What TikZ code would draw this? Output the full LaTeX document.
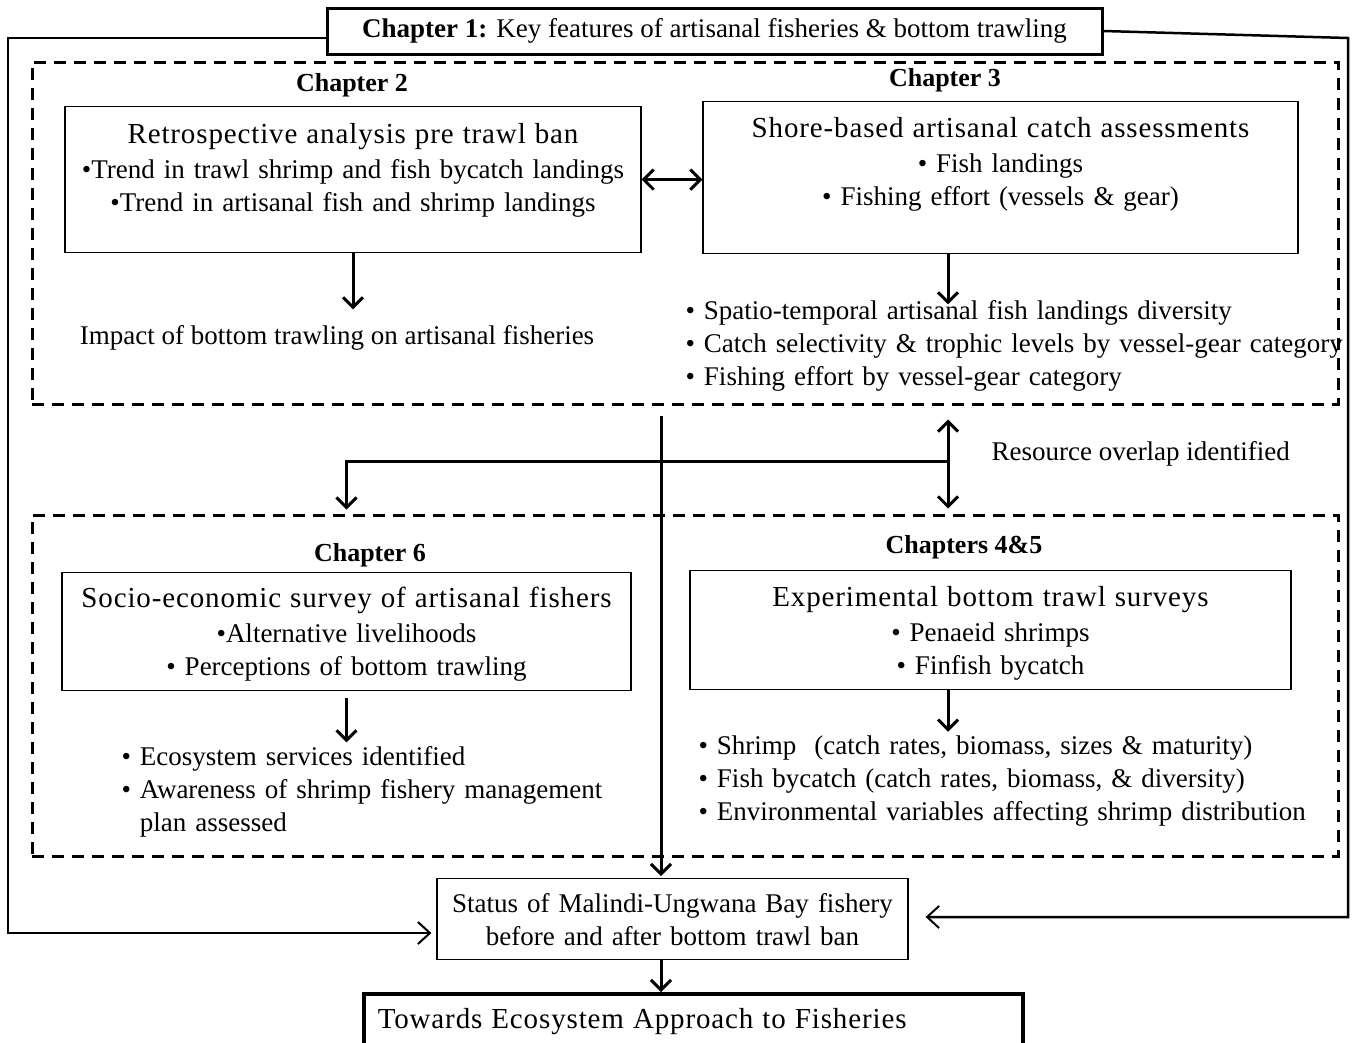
\documentclass[tikz,border=0pt]{standalone}
\usepackage{fontspec}
\setmainfont{Liberation Serif}
\newfontfamily\titlefont{Liberation Serif}[LetterSpace=3]
\usetikzlibrary{arrows.meta,positioning}

\tikzset{
  every node/.style={font=\fontsize{27}{33}\selectfont},
  chapbox/.style={draw, line width=1.2pt, inner xsep=0pt, inner ysep=0pt, align=center, anchor=north},
  heavybox/.style={draw, line width=3pt, inner sep=0pt},
  partbox/.style={draw, dash pattern=on 12pt off 8pt, line width=3pt, inner sep=0pt},
  chaplabel/.style={anchor=base, font=\fontsize{26}{32}\selectfont\bfseries},
  bulletlist/.style={anchor=base west, align=left},
  arr/.style={line width=3pt, -{Straight Barb[length=10pt,width=20pt]}},
  dblarr/.style={line width=3pt, {Straight Barb[length=10pt,width=20pt]}-{Straight Barb[length=10pt,width=20pt]}},
  loopline/.style={line width=2.5pt, -{Straight Barb[length=12pt,width=22pt,line width=2pt]}}
}
\newcommand{\boxtitle}[1]{{\titlefont\fontsize{29}{33}\selectfont #1}}

\begin{document}
\begin{tikzpicture}[x=1pt, y=-1pt]
\useasboundingbox (0,0) rectangle (1357,1042);

% chapter 1 on top
\node[heavybox, minimum width=775pt, minimum height=46pt] (ch1) at (714.5,31)
  {\textbf{Chapter 1:} Key features of artisanal fisheries \& bottom trawling};

% the two dashed parts
\node[partbox, minimum width=1306pt, minimum height=342pt] (part1) at (685,233) {};
\node[partbox, minimum width=1306pt, minimum height=341pt] (part2) at (685,685.5) {};

% upper part: chapters 2 and 3
\node[chaplabel] (lab2) at (352,91) {Chapter 2};
\node[chaplabel] (lab3) at (945,86) {Chapter 3};
\node[chapbox, text width=576pt, text height=37pt, text depth=109pt] (ch2) at (353,106)
  {\boxtitle{Retrospective analysis pre trawl ban}\\[2pt]
   \textbullet Trend in trawl shrimp and fish bycatch landings\\
   \textbullet Trend in artisanal fish and shrimp landings};
\node[chapbox, text width=595pt, text height=36pt, text depth=116pt] (ch3) at (1000.5,101)
  {\boxtitle{Shore-based artisanal catch assessments}\\[2pt]
   \textbullet\ Fish landings\\
   \textbullet\ Fishing effort (vessels \& gear)};
\node[anchor=base] (impact) at (337,344) {Impact of bottom trawling on artisanal fisheries};
\node[bulletlist, text width=660pt] (list3) at (682,319)
  {\textbullet\ Spatio-temporal artisanal fish landings diversity\\
   \textbullet\ Catch selectivity \& trophic levels by vessel-gear category\\
   \textbullet\ Fishing effort by vessel-gear category};

% lower part: chapters 6 and 4&5
\node[chaplabel] (lab6) at (370,561) {Chapter 6};
\node[chaplabel] (lab45) at (964,553) {Chapters 4\&5};
\node[chapbox, text width=569pt, text height=35pt, text depth=83pt] (ch6) at (346.5,572)
  {\boxtitle{Socio-economic survey of artisanal fishers}\\[2pt]
   \textbullet Alternative livelihoods\\
   \textbullet\ Perceptions of bottom trawling};
\node[chapbox, text width=601pt, text height=36pt, text depth=83pt] (ch45) at (990.5,570)
  {\boxtitle{Experimental bottom trawl surveys}\\[2pt]
   \textbullet\ Penaeid shrimps\\
   \textbullet\ Finfish bycatch};
\node[bulletlist, text width=520pt] (list6) at (118,765)
  {\textbullet\ Ecosystem services identified\\
   \textbullet\ Awareness of shrimp fishery management\\
   \phantom{\textbullet\ }plan assessed};
\node[bulletlist, text width=640pt] (list45) at (695,754)
  {\textbullet\ Shrimp\ \ (catch rates, biomass, sizes \& maturity)\\
   \textbullet\ Fish bycatch (catch rates, biomass, \& diversity)\\
   \textbullet\ Environmental variables affecting shrimp distribution};

\node[anchor=base west] (overlap) at (988,460) {Resource overlap identified};

% outcome
\node[chapbox, draw, line width=1.2pt, text width=471pt, text height=34pt, text depth=47pt] (status) at (672.5,878)
  {Status of Malindi-Ungwana Bay fishery\\ before and after bottom trawl ban};
\node[heavybox, line width=3.5pt, anchor=north west, inner xsep=14pt, text width=631pt,
  text height=35pt, text depth=25pt, align=left] (towards) at (362,992)
  {\boxtitle{Towards Ecosystem Approach to Fisheries}};

% connectors
\coordinate (col) at (948,0);
\coordinate (split) at (661,416);
\coordinate (fork) at (948,461);
\coordinate (lowleft) at (8,933);
\coordinate (upright) at (1348,38);
\coordinate (lowright) at (1348,917);

\draw[dblarr] (ch2.east) -- (ch2.east -| ch3.west);
\draw[arr, shorten >=12pt] (ch2.south) -- (ch2.south |- impact.north);
\draw[arr, shorten >=-8pt] (ch3.south -| col) -- (col |- list3.north);
\draw[arr, shorten <=7pt] (ch6.south) -- (ch6.south |- list6.north);
\draw[arr] (ch45.south -| col) -- (col |- list45.north);

\draw[dblarr, shorten <=14pt, shorten >=5pt] (col |- part1.south) -- (col |- part2.north);
\draw[arr, shorten >=4pt] (fork) -| (ch6.south |- part2.north);
\draw[arr, shorten >=2pt] (split) -- (split |- status.north);
\draw[arr] (split |- status.south) -- (split |- towards.north);

\draw[loopline, shorten >=5pt] ([yshift=-7pt]ch1.west) -| (lowleft) -- (lowleft -| status.west);
\draw[loopline, shorten >=17pt] (ch1.east) -- (upright) -- (lowright) -- (lowright -| status.east);
\end{tikzpicture}
\end{document}
